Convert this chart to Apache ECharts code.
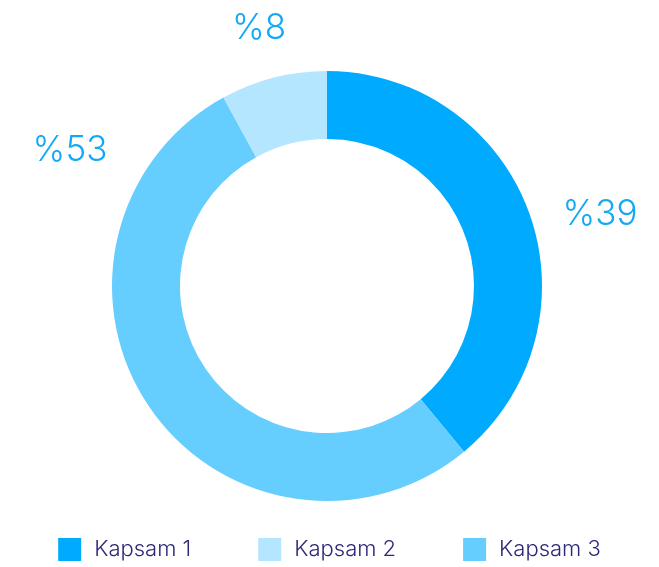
<!DOCTYPE html>
<html>
<head>
<meta charset="utf-8">
<script src="https://cdn.jsdelivr.net/npm/echarts@6/dist/echarts.min.js"></script>
<style>
  html, body { margin: 0; padding: 0; background: #fff; }
  #chart-container { width: 659px; height: 567px; }
</style>
</head>
<body>
<div id="chart-container"></div>
<script>
// slice order follows the ring clockwise from the top
var names = ['Kapsam 1', 'Kapsam 3', 'Kapsam 2'];
var values = [39, 53, 8];
var legendNames = ['Kapsam 1', 'Kapsam 2', 'Kapsam 3'];
var colors = {
  'Kapsam 1': '#00AAFF',
  'Kapsam 2': '#B5E6FF',
  'Kapsam 3': '#66CDFF'
};
// nudges so the percentage labels sit where the original puts them
var labelShift = {
  'Kapsam 1': [0, 11],
  'Kapsam 3': [-12, -273],
  'Kapsam 2': [25, -20]
};

var dom = document.getElementById('chart-container');
var myChart = echarts.init(dom, null, { renderer: 'canvas' });

var option = {
  animation: false,
  legend: {
    data: legendNames,
    left: 'center',
    top: 533,
    itemWidth: 23,
    itemHeight: 23,
    itemGap: 67,
    icon: 'rect',
    textStyle: {
      fontFamily: 'Inter',
      fontWeight: 300,
      fontSize: 22,
      color: '#2B2878',
      padding: [0, 0, 0, 8]
    }
  },
  series: [
    {
      type: 'pie',
      center: [327, 286],
      radius: [147, 215],
      startAngle: 90,
      clockwise: true,
      avoidLabelOverlap: false,
      label: {
        show: true,
        position: 'outside',
        formatter: function (p) { return '%' + p.value; },
        fontFamily: 'Inter',
        fontWeight: 300,
        fontSize: 35,
        color: '#14A9F5'
      },
      labelLine: { show: false, length: 30, length2: 0 },
      labelLayout: function (params) {
        var s = labelShift[names[params.dataIndex]];
        return { dx: s[0], dy: s[1] };
      },
      data: names.map(function (n, i) {
        return { name: n, value: values[i], itemStyle: { color: colors[n] } };
      })
    }
  ]
};

myChart.setOption(option);
window.addEventListener('resize', myChart.resize);
</script>
</body>
</html>
